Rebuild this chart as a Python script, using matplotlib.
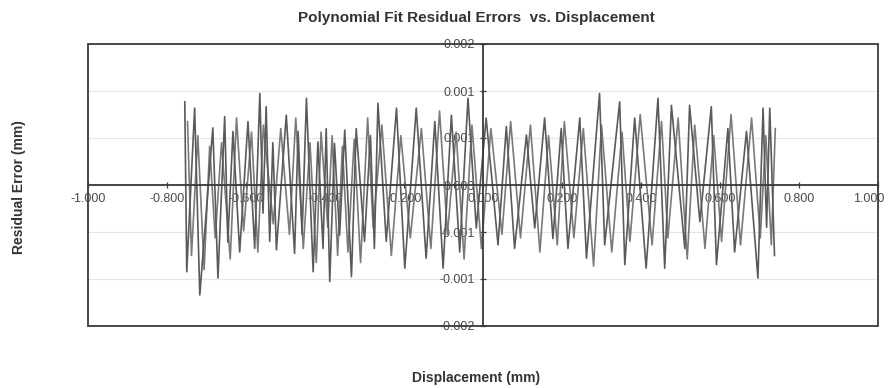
import matplotlib
matplotlib.use("Agg")
import matplotlib.pyplot as plt
from matplotlib.patches import Rectangle
import matplotlib.transforms as mtransforms
import numpy as np

plt.rcParams['font.family'] = ['Liberation Sans', 'DejaVu Sans']

# ---- data (residual error in units of 0.001 mm) ----
trace1_x = [-0.755, -0.750, -0.730, -0.717, -0.684, -0.671, -0.654, -0.646, -0.633, -0.616,
            -0.595, -0.578, -0.565, -0.557, -0.549, -0.540, -0.532, -0.523, -0.498, -0.477,
            -0.468, -0.458, -0.447, -0.430, -0.418, -0.405, -0.397, -0.388, -0.376, -0.363,
            -0.350, -0.333, -0.321, -0.300, -0.285, -0.275, -0.266, -0.245, -0.219, -0.198,
            -0.169, -0.144, -0.122, -0.101, -0.080, -0.059, -0.038, -0.017, 0.008, 0.038,
            0.059, 0.080, 0.110, 0.131, 0.156, 0.177, 0.198, 0.215, 0.245, 0.262,
            0.295, 0.308, 0.346, 0.359, 0.384, 0.413, 0.443, 0.460, 0.477, 0.511,
            0.523, 0.549, 0.578, 0.591, 0.620, 0.637, 0.667, 0.696, 0.709, 0.718,
            0.726, 0.738]
trace1_y = [1.18, -1.23, 1.09, -1.56, 0.81, -1.32, 0.97, -0.81, 0.76, -0.95,
            0.90, -0.90, 1.30, -0.40, 1.11, -0.80, 0.60, -0.92, 0.99, -0.97,
            0.76, -0.70, 1.23, -1.23, 0.61, -0.90, 0.80, -1.37, 0.59, -0.71,
            0.78, -1.30, 0.80, -0.80, 0.70, -0.90, 1.16, -0.80, 1.09, -1.18,
            1.09, -1.04, 0.90, -1.18, 0.99, -0.95, 1.23, -0.61, 0.95, -0.85,
            0.83, -0.90, 0.71, -0.61, 0.95, -0.76, 0.80, -0.90, 0.95, -1.04,
            1.30, -0.85, 1.18, -1.13, 0.95, -1.18, 1.23, -1.18, 1.13, -0.90,
            1.13, -0.52, 1.11, -1.13, 0.80, -0.95, 0.76, -1.32, 1.09, -0.60,
            1.09, -1.00]

trace2_x = [-0.748, -0.738, -0.722, -0.706, -0.692, -0.678, -0.662, -0.640, -0.624, -0.606,
            -0.586, -0.570, -0.556, -0.531, -0.512, -0.490, -0.474, -0.455, -0.438, -0.422,
            -0.410, -0.393, -0.382, -0.368, -0.356, -0.342, -0.326, -0.310, -0.292, -0.278,
            -0.256, -0.232, -0.208, -0.184, -0.156, -0.132, -0.110, -0.090, -0.068, -0.048,
            -0.028, -0.004, 0.020, 0.048, 0.070, 0.095, 0.120, 0.144, 0.166, 0.188,
            0.206, 0.230, 0.254, 0.280, 0.300, 0.326, 0.352, 0.372, 0.398, 0.428,
            0.452, 0.468, 0.494, 0.517, 0.536, 0.562, 0.584, 0.604, 0.628, 0.652,
            0.680, 0.702, 0.716, 0.730, 0.740]
trace2_y = [0.90, -1.00, 0.70, -1.20, 0.55, -0.75, 0.60, -1.05, 0.95, -0.65,
            0.75, -0.95, 0.85, -0.55, 0.80, -0.70, 0.95, -0.90, 0.60, -1.10,
            0.75, -0.60, 0.70, -1.00, 0.55, -0.95, 0.65, -1.10, 0.95, -0.60,
            0.85, -1.00, 0.70, -0.75, 0.80, -0.90, 1.05, -0.70, 0.75, -1.05,
            0.85, -0.90, 0.80, -0.70, 0.90, -0.75, 0.85, -0.95, 0.70, -0.85,
            0.90, -0.75, 0.80, -1.15, 0.85, -0.95, 0.75, -0.80, 1.00, -0.85,
            0.90, -0.75, 0.95, -1.05, 0.85, -0.90, 0.70, -0.80, 1.00, -0.85,
            0.95, -0.75, 0.70, -0.85, 0.80]

x_ticks = [-1.0, -0.8, -0.6, -0.4, -0.2, 0.0, 0.2, 0.4, 0.6, 0.8, 1.0]
y_ticks = [-0.002, -0.0013333, -0.00066667, 0.0, 0.00066667, 0.0013333, 0.002]
y_tick_labels = ["-0.002", "-0.001", "-0.001", "0.000", "0.001", "0.001", "0.002"]
x_tick_labels = ["-1.000", "-0.800", "-0.600", "-0.400", "-0.200", "0.000",
                 "0.200", "0.400", "0.600", "0.800", "1.000"]

title = "Polynomial Fit Residual Errors  vs. Displacement"
xlabel = "Displacement (mm)"
ylabel = "Residual Error (mm)"

# ---- figure ----
fig = plt.figure(figsize=(8.91, 3.88), dpi=100)
ax = fig.add_axes([88/891, 62/388, 790/891, 282/388])

txt = '#333333'

ax.set_xlim(-1.0, 1.0)
ax.set_ylim(-0.002, 0.002)

for yv in y_ticks:
    ax.axhline(yv, color='#e6e6e6', lw=0.8, zorder=0)

ax.plot(trace2_x, np.array(trace2_y) * 1e-3, color='#7a7a7a', lw=1.2,
        solid_joinstyle='round', zorder=2)
ax.plot(trace1_x, np.array(trace1_y) * 1e-3, color='#5a5a5a', lw=1.2,
        solid_joinstyle='round', zorder=3)

ax.spines['left'].set_position('zero')
ax.spines['bottom'].set_position('zero')
ax.spines['top'].set_visible(False)
ax.spines['right'].set_visible(False)
for s in ('left', 'bottom'):
    ax.spines[s].set_color('#3a3a3a')
    ax.spines[s].set_linewidth(1.3)
    ax.spines[s].set_zorder(4)

ax.add_patch(Rectangle((0, 0), 1, 1, transform=ax.transAxes, fill=False,
                       edgecolor='#3a3a3a', lw=1.3, clip_on=False, zorder=5))

ax.set_xticks(x_ticks)
ax.set_xticklabels(x_tick_labels)
ax.set_yticks(y_ticks)
ax.set_yticklabels(y_tick_labels)
ax.tick_params(axis='both', direction='inout', length=5, width=0.9,
               color='#3a3a3a', labelsize=9, labelcolor='#4a4a4a', pad=3)

# keep the last x label inside the figure
last = ax.get_xticklabels()[-1]
last.set_transform(last.get_transform() +
                   mtransforms.ScaledTranslation(-9/100, 0, fig.dpi_scale_trans))

fig.text(476/891, 1 - 18/388, title, ha='center', va='center', fontsize=11,
         fontweight='bold', color=txt)
fig.text(476/891, 1 - 378/388, xlabel, ha='center', va='center', fontsize=10,
         fontweight='bold', color=txt)
fig.text(19/891, 1 - 187/388, ylabel, ha='center', va='center', rotation=90,
         fontsize=10, fontweight='bold', color=txt)

fig.savefig("out.png", dpi=100)
